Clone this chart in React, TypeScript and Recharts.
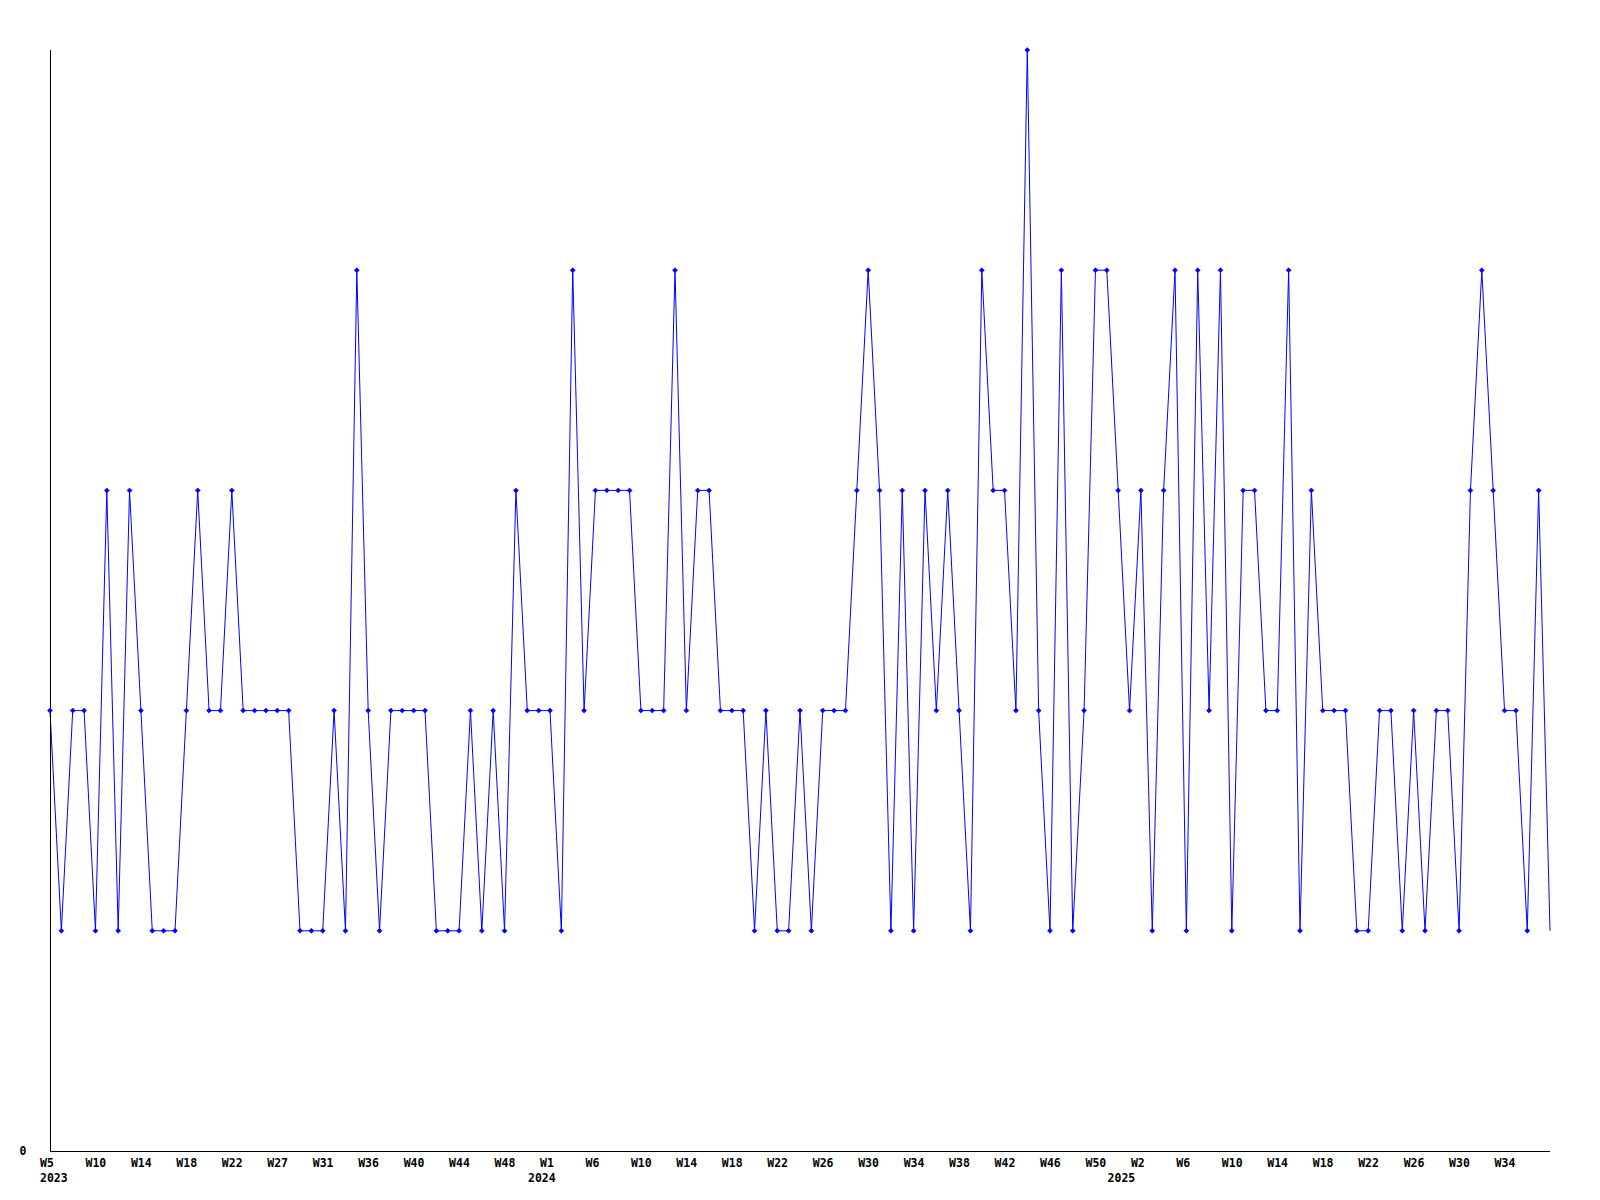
import React from 'react';
import { LineChart, Line, XAxis, YAxis } from 'recharts';

// week labels per year (some weeks have no entry)
const weeks2023 = [
  'W5', 'W6', 'W7', 'W8', 'W10', 'W11', 'W12', 'W13', 'W14', 'W15', 'W16', 'W17', 'W18', 'W19', 'W20',
  'W21', 'W22', 'W23', 'W24', 'W26', 'W27', 'W28', 'W29', 'W30', 'W31', 'W32', 'W33', 'W35', 'W36', 'W37',
  'W38', 'W39', 'W40', 'W41', 'W42', 'W43', 'W44', 'W45', 'W46', 'W47', 'W48', 'W49', 'W50', 'W52',
];
const weeks2024 = [
  'W1', 'W2', 'W3', 'W5', 'W6', 'W7', 'W8', 'W9', 'W10', 'W11', 'W12', 'W13', 'W14', 'W15', 'W16', 'W17',
  'W18', 'W19', 'W20', 'W21', 'W22', 'W23', 'W24', 'W25', 'W26', 'W27', 'W28', 'W29', 'W30', 'W31', 'W32',
  'W33', 'W34', 'W35', 'W36', 'W37', 'W38', 'W39', 'W40', 'W41', 'W42', 'W43', 'W44', 'W45', 'W46', 'W47',
  'W48', 'W49', 'W50', 'W51', 'W52',
];
const weeks2025 = [
  'W1', 'W2', 'W3', 'W4', 'W5', 'W6', 'W7', 'W8', 'W9', 'W10', 'W11', 'W12', 'W13', 'W14', 'W15', 'W16',
  'W17', 'W18', 'W19', 'W20', 'W21', 'W22', 'W23', 'W24', 'W25', 'W26', 'W27', 'W28', 'W29', 'W30', 'W31',
  'W32', 'W33', 'W34', 'W35', 'W36', 'W37', 'W38',
];

const values2023 = [
  2, 1, 2, 2, 1, 3, 1, 3, 2, 1, 1, 1, 2, 3, 2, 2, 3, 2, 2, 2, 2, 2, 1, 1, 1, 2, 1, 4, 2, 1, 2, 2, 2, 2, 1, 1,
  1, 2, 1, 2, 1, 3, 2, 2,
];
const values2024 = [
  2, 1, 4, 2, 3, 3, 3, 3, 2, 2, 2, 4, 2, 3, 3, 2, 2, 2, 1, 2, 1, 1, 2, 1, 2, 2, 2, 3, 4, 3, 1, 3, 1, 3, 2, 3,
  2, 1, 4, 3, 3, 2, 5, 2, 1, 4, 1, 2, 4, 4, 3,
];
const values2025 = [
  2, 3, 1, 3, 4, 1, 4, 2, 4, 1, 3, 3, 2, 2, 4, 1, 3, 2, 2, 2, 1, 1, 2, 2, 1, 2, 1, 2, 2, 1, 3, 4, 3, 2, 2, 1,
  3, 1,
];

const years = ['2023', '2024', '2025'];

const data: { key: string; week: string; year: string; first: boolean; value: number }[] = [];
[
  [weeks2023, values2023],
  [weeks2024, values2024],
  [weeks2025, values2025],
].forEach(([weeks, vals], yi) => {
  (weeks as string[]).forEach((w, i) => {
    data.push({ key: `${years[yi]}-${w}`, week: w, year: years[yi], first: i === 0, value: (vals as number[])[i] });
  });
});

const W = 1600;
const H = 1200;
const PLOT_BOTTOM = 1151;
const FONT = '"DejaVu Sans Mono", monospace';

const WeekTick = (props: any) => {
  const { x, index } = props;
  const d = data[index];
  if (!d) return null;
  const showWeek = index % 4 === 0 && index < data.length - 1;
  return (
    <g>
      {showWeek && (
        <text x={x - 10} y={PLOT_BOTTOM + 16} textAnchor="start" fontFamily={FONT} fontWeight="bold" fontSize={11.5} fill="#000">
          {d.week}
        </text>
      )}
      {d.first && (
        <text x={Math.max(x - 22, 40)} y={PLOT_BOTTOM + 31} textAnchor="start" fontFamily={FONT} fontWeight="bold" fontSize={11.5} fill="#000">
          {d.year}
        </text>
      )}
    </g>
  );
};

const ValueTick = (props: any) => {
  const { y, payload } = props;
  return (
    <text x={23} y={y + 4} textAnchor="middle" fontFamily={FONT} fontWeight="bold" fontSize={11.5} fill="#000">
      {payload.value}
    </text>
  );
};

const Marker = (props: any) => {
  const { cx, cy, index } = props;
  if (index === data.length - 1 || cx == null) return <g key={index} />;
  return (
    <path
      key={index}
      d={`M${cx},${cy - 2.5} L${cx + 2.5},${cy} L${cx},${cy + 2.5} L${cx - 2.5},${cy} Z`}
      fill="#0000ff"
      stroke="#0000ff"
      strokeWidth={0.6}
    />
  );
};

export default function App() {
  return (
    <div style={{ position: 'absolute', left: 0, top: 0, width: W, height: H, background: '#fff' }}>
      <LineChart width={W} height={H} data={data} margin={{ top: 50, right: 50, bottom: 0, left: 0 }}>
        <XAxis
          dataKey="key"
          interval={0}
          height={49}
          tickLine={false}
          axisLine={{ stroke: '#000', strokeWidth: 1, shapeRendering: 'crispEdges' }}
          tick={<WeekTick />}
        />
        <YAxis
          domain={[0, 5]}
          ticks={[0]}
          width={50}
          tickLine={false}
          axisLine={{ stroke: '#000', strokeWidth: 1, shapeRendering: 'crispEdges' }}
          tick={<ValueTick />}
        />
        <Line
          type="linear"
          dataKey="value"
          stroke="#0000ff"
          strokeWidth={1}
          dot={<Marker />}
          activeDot={false}
          isAnimationActive={false}
        />
      </LineChart>
    </div>
  );
}
